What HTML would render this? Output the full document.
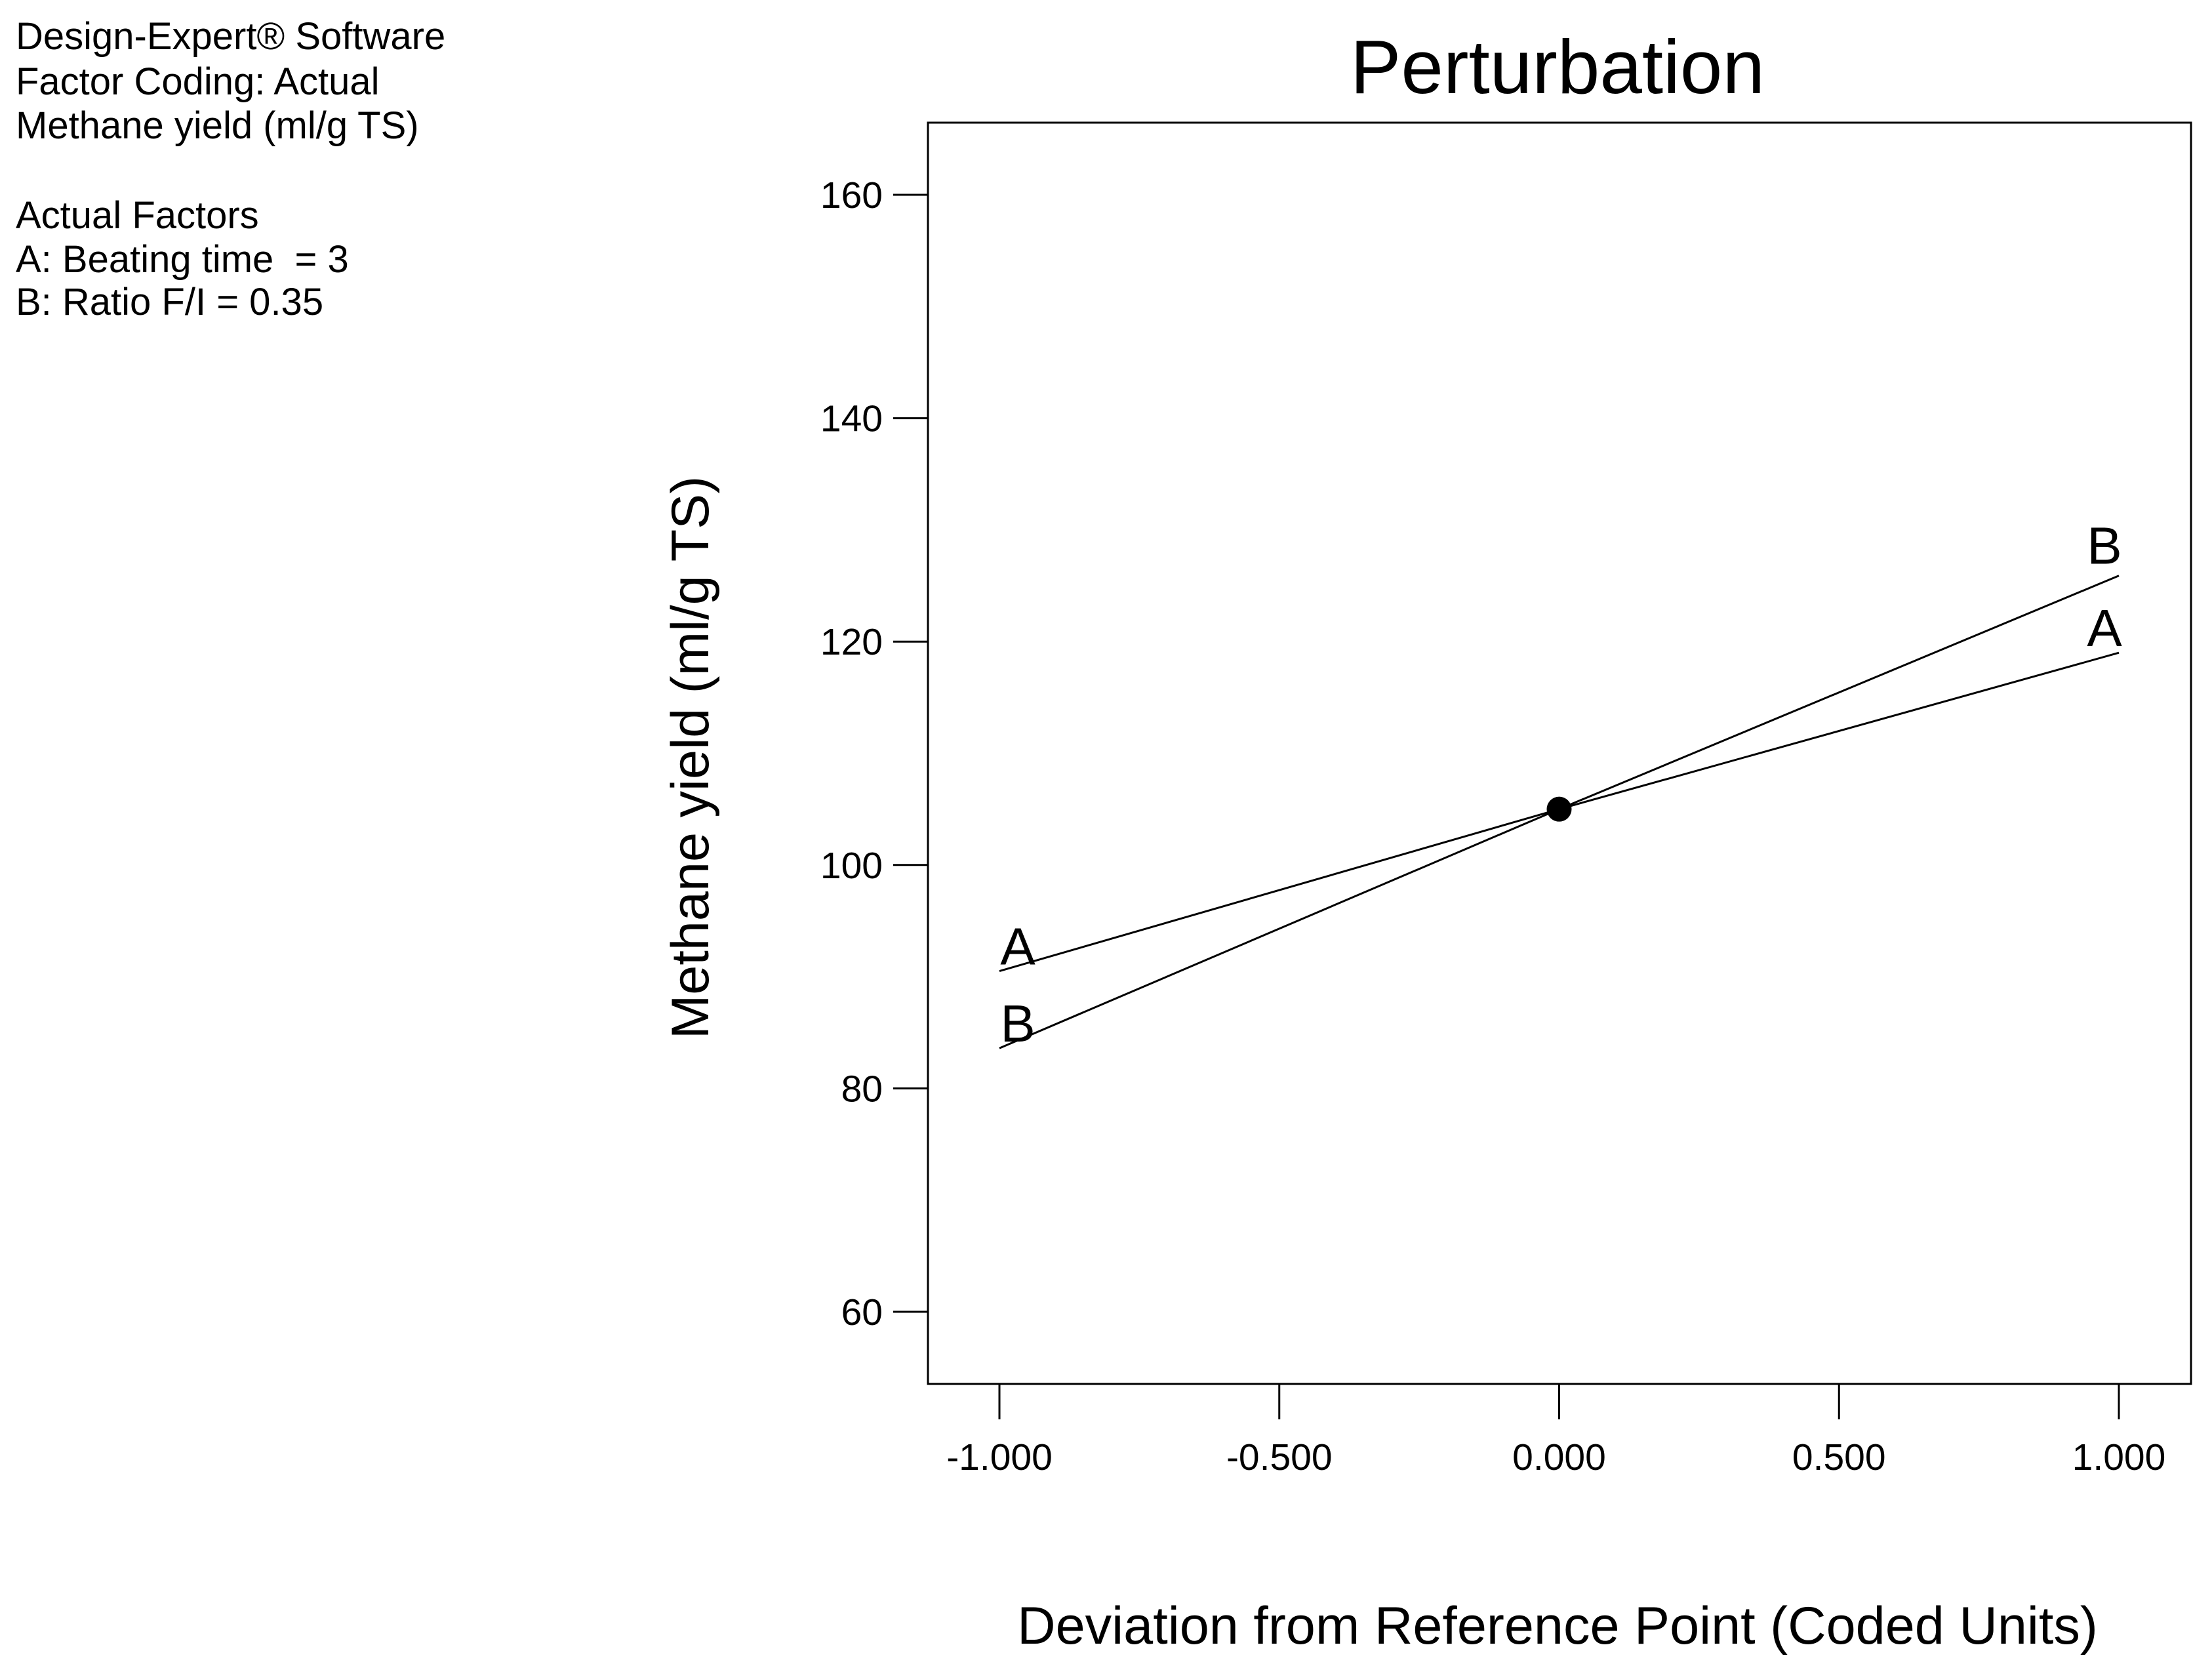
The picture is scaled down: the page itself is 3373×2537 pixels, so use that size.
<!DOCTYPE html>
<html><head><meta charset="utf-8"><style>
html,body{margin:0;padding:0;background:#fff;}
svg{display:block;font-family:"Liberation Sans",Arial,sans-serif;}
</style></head><body>
<svg id="chart" width="3373" height="2537" viewBox="0 0 3373 2537" xmlns="http://www.w3.org/2000/svg">
<g font-size="58" fill="#000">
<text x="24" y="75">Design-Expert® Software</text>
<text x="24" y="144">Factor Coding: Actual</text>
<text x="24" y="211">Methane yield (ml/g TS)</text>
<text x="24" y="348">Actual Factors</text>
<text x="24" y="415" xml:space="preserve">A: Beating time  = 3</text>
<text x="24" y="480">B: Ratio F/I = 0.35</text>
</g>
<text x="2375" y="142" font-size="116" text-anchor="middle">Perturbation</text>
<rect x="1415" y="187" width="1926" height="1923" fill="none" stroke="#000" stroke-width="3"/>
<text transform="translate(1080,1155) rotate(-90)" font-size="81" text-anchor="middle">Methane yield (ml/g TS)</text>
<text x="2375" y="2506" font-size="81" text-anchor="middle">Deviation from Reference Point (Coded Units)</text>
<g id="axes"></g>
<g id="marks"></g>
</svg>
<script>
const xTicks = [-1, -0.5, 0, 0.5, 1];
const xTickLabels = ["-1.000", "-0.500", "0.000", "0.500", "1.000"];
const yTicks = [60, 80, 100, 120, 140, 160];
const yTickLabels = ["60", "80", "100", "120", "140", "160"];
const deviation = [-1, 0, 1];
const seriesA = [90.5, 105, 119];
const seriesB = [83.6, 105, 125.9];
const refValue = 105;

const NS = "http://www.w3.org/2000/svg";
function xs(v){ return 1524 + (v + 1) / 2 * (3231 - 1524); }
function ys(v){ return 2000 - (v - 60) / 100 * (2000 - 297); }
function mk(tag, attrs, parent){ const e = document.createElementNS(NS, tag); for (const k in attrs) e.setAttribute(k, attrs[k]); parent.appendChild(e); return e; }
const axes = document.getElementById('axes');
const marks = document.getElementById('marks');
xTicks.forEach((t, i) => {
  const l = mk('line', {x1: xs(t), x2: xs(t), y1: 2110, y2: 2164, stroke: '#000', 'stroke-width': 3}, axes);
  
  
  const tx = mk('text', {x: xs(t), y: 2241, 'font-size': 57, 'text-anchor': 'middle'}, axes);
  tx.textContent = xTickLabels[i];
  
  
});
yTicks.forEach((t, i) => {
  const l = mk('line', {x1: 1362, x2: 1415, y1: ys(t), y2: ys(t), stroke: '#000', 'stroke-width': 3}, axes);
  
  
  const tx = mk('text', {x: 1346, y: ys(t) + 20, 'font-size': 57, 'text-anchor': 'end'}, axes);
  tx.textContent = yTickLabels[i];
  
  
});
function drawSeries(vals, name, lblLeftDy, lblRightDy){
  const pts = deviation.map((d, i) => xs(d) + ',' + ys(vals[i])).join(' ');
  const p = mk('polyline', {points: pts, fill: 'none', stroke: '#000', 'stroke-width': 3}, marks);
  
  
  const n = vals.length - 1;
  const t1 = mk('text', {x: xs(deviation[0]) + 28, y: ys(vals[0]) + lblLeftDy, 'font-size': 80, 'text-anchor': 'middle'}, marks);
  t1.textContent = name;
  
  
  const t2 = mk('text', {x: xs(deviation[n]) - 22, y: ys(vals[n]) + lblRightDy, 'font-size': 80, 'text-anchor': 'middle'}, marks);
  t2.textContent = name;
  
  
}
drawSeries(seriesA, 'A', -10, -10);
drawSeries(seriesB, 'B', -10, -18);
const dot = mk('circle', {cx: xs(0), cy: ys(refValue), r: 19, fill: '#000'}, marks);


</script>
</body></html>
